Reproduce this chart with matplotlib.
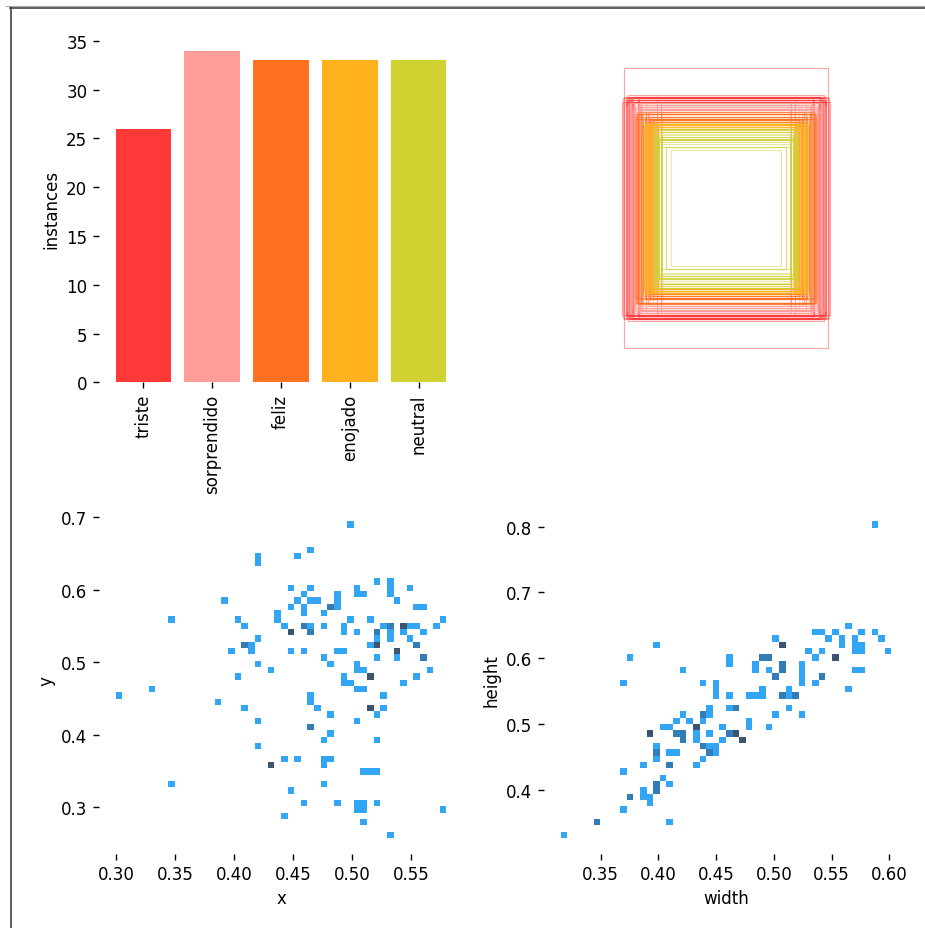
import numpy as np
import pandas as pd
import matplotlib
matplotlib.use('Agg')
import matplotlib.pyplot as plt
from matplotlib.patches import Rectangle
from matplotlib.lines import Line2D
import seaborn as sn

names = ['triste', 'sorprendido', 'feliz', 'enojado', 'neutral']
instances = [26, 34, 33, 33, 33]
class_colors = ['#FF3838', '#FF9D97', '#FF701F', '#FFB21D', '#CFD231']

# box centres, one tuple per histogram cell: (x, y, count)
xy_cells = [
    (0.499, 0.690, 1), (0.465, 0.655, 1), (0.454, 0.646, 1), (0.420, 0.646, 1), (0.420, 0.638, 1),
    (0.521, 0.611, 1), (0.533, 0.611, 1), (0.533, 0.603, 1), (0.533, 0.594, 1), (0.538, 0.585, 1),
    (0.549, 0.603, 1), (0.504, 0.603, 1), (0.504, 0.594, 1), (0.510, 0.594, 1), (0.488, 0.594, 1),
    (0.488, 0.585, 1), (0.488, 0.576, 1), (0.482, 0.576, 2), (0.476, 0.568, 1), (0.465, 0.603, 1),
    (0.448, 0.603, 1), (0.460, 0.594, 1), (0.454, 0.585, 1), (0.465, 0.585, 1), (0.471, 0.585, 1),
    (0.448, 0.576, 1), (0.460, 0.576, 1), (0.460, 0.568, 1), (0.437, 0.568, 1), (0.437, 0.559, 1),
    (0.443, 0.550, 1), (0.448, 0.542, 3), (0.460, 0.550, 2), (0.465, 0.550, 1), (0.465, 0.542, 2),
    (0.476, 0.550, 1), (0.493, 0.550, 1), (0.493, 0.542, 1), (0.499, 0.559, 1), (0.504, 0.542, 1),
    (0.516, 0.559, 1), (0.521, 0.542, 2), (0.521, 0.533, 1), (0.516, 0.524, 1), (0.521, 0.524, 3),
    (0.527, 0.550, 1), (0.533, 0.550, 2), (0.533, 0.542, 1), (0.533, 0.533, 1), (0.538, 0.515, 3),
    (0.538, 0.507, 1), (0.544, 0.550, 3), (0.549, 0.550, 1), (0.555, 0.550, 1), (0.544, 0.542, 1),
    (0.549, 0.533, 1), (0.555, 0.524, 2), (0.561, 0.542, 1), (0.561, 0.507, 2), (0.572, 0.550, 1),
    (0.577, 0.559, 1), (0.555, 0.576, 1), (0.561, 0.576, 1), (0.448, 0.515, 1), (0.460, 0.515, 1),
    (0.488, 0.515, 1), (0.493, 0.515, 1), (0.476, 0.507, 1), (0.482, 0.498, 1), (0.504, 0.498, 1),
    (0.504, 0.489, 1), (0.510, 0.489, 1), (0.516, 0.480, 3), (0.493, 0.480, 1), (0.493, 0.472, 1),
    (0.499, 0.472, 1), (0.504, 0.463, 1), (0.510, 0.463, 1), (0.521, 0.507, 1), (0.544, 0.472, 1),
    (0.555, 0.480, 1), (0.566, 0.489, 1), (0.527, 0.454, 1), (0.465, 0.454, 1), (0.465, 0.445, 1),
    (0.471, 0.437, 1), (0.482, 0.428, 1), (0.516, 0.437, 3), (0.521, 0.428, 1), (0.527, 0.437, 1),
    (0.504, 0.419, 1), (0.420, 0.419, 1), (0.465, 0.410, 2), (0.482, 0.402, 1), (0.476, 0.393, 1),
    (0.521, 0.393, 1), (0.420, 0.384, 1), (0.443, 0.367, 1), (0.454, 0.367, 1), (0.476, 0.367, 1),
    (0.482, 0.367, 1), (0.476, 0.358, 1), (0.431, 0.358, 3), (0.510, 0.349, 1), (0.516, 0.349, 1),
    (0.521, 0.349, 1), (0.347, 0.332, 1), (0.476, 0.332, 1), (0.448, 0.323, 1), (0.460, 0.306, 1),
    (0.488, 0.306, 1), (0.504, 0.306, 1), (0.510, 0.306, 1), (0.504, 0.297, 1), (0.510, 0.297, 1),
    (0.521, 0.306, 1), (0.577, 0.297, 1), (0.443, 0.288, 1), (0.510, 0.279, 1), (0.533, 0.262, 1),
    (0.330, 0.463, 1), (0.302, 0.454, 1), (0.387, 0.445, 1), (0.409, 0.437, 1), (0.403, 0.480, 1),
    (0.420, 0.533, 1), (0.409, 0.524, 2), (0.415, 0.524, 1), (0.415, 0.515, 1), (0.398, 0.515, 1),
    (0.403, 0.559, 1), (0.409, 0.550, 1), (0.420, 0.498, 1), (0.431, 0.489, 1), (0.392, 0.585, 1),
    (0.347, 0.559, 1),
]

# box sizes, one tuple per histogram cell: (width, height, count)
wh_cells = [
    (0.587, 0.803, 1), (0.564, 0.649, 1), (0.536, 0.639, 1), (0.541, 0.639, 1), (0.553, 0.639, 1),
    (0.576, 0.639, 1), (0.587, 0.639, 1), (0.547, 0.630, 1), (0.559, 0.630, 1), (0.570, 0.630, 1),
    (0.593, 0.630, 1), (0.501, 0.630, 1), (0.507, 0.620, 3), (0.559, 0.620, 1), (0.570, 0.620, 1),
    (0.576, 0.620, 1), (0.398, 0.620, 1), (0.530, 0.611, 1), (0.541, 0.611, 1), (0.570, 0.611, 1),
    (0.576, 0.611, 1), (0.599, 0.611, 1), (0.375, 0.601, 1), (0.536, 0.601, 1), (0.553, 0.601, 3),
    (0.461, 0.601, 1), (0.461, 0.591, 1), (0.490, 0.601, 2), (0.496, 0.601, 2), (0.484, 0.591, 1),
    (0.484, 0.582, 1), (0.496, 0.582, 1), (0.501, 0.572, 2), (0.507, 0.591, 2), (0.507, 0.582, 2),
    (0.524, 0.591, 1), (0.524, 0.582, 1), (0.524, 0.572, 1), (0.524, 0.562, 1), (0.541, 0.572, 2),
    (0.536, 0.562, 1), (0.421, 0.582, 1), (0.570, 0.582, 1), (0.576, 0.582, 1), (0.564, 0.553, 1),
    (0.370, 0.562, 1), (0.438, 0.562, 1), (0.450, 0.562, 1), (0.450, 0.553, 1), (0.450, 0.543, 1),
    (0.461, 0.543, 1), (0.478, 0.543, 1), (0.484, 0.543, 1), (0.490, 0.553, 1), (0.490, 0.543, 1),
    (0.507, 0.543, 2), (0.513, 0.543, 1), (0.518, 0.543, 2), (0.513, 0.553, 1), (0.444, 0.524, 1),
    (0.444, 0.514, 1), (0.438, 0.514, 2), (0.461, 0.524, 1), (0.467, 0.524, 2), (0.513, 0.524, 1),
    (0.501, 0.514, 1), (0.524, 0.514, 1), (0.421, 0.514, 1), (0.415, 0.505, 1), (0.427, 0.505, 1),
    (0.404, 0.495, 1), (0.410, 0.495, 1), (0.433, 0.495, 3), (0.438, 0.505, 1), (0.455, 0.495, 1),
    (0.478, 0.505, 1), (0.478, 0.495, 1), (0.496, 0.495, 1), (0.392, 0.486, 3), (0.415, 0.486, 2),
    (0.421, 0.486, 2), (0.421, 0.476, 2), (0.433, 0.486, 1), (0.433, 0.476, 1), (0.444, 0.486, 1),
    (0.461, 0.486, 2), (0.467, 0.486, 3), (0.473, 0.476, 3), (0.455, 0.476, 1), (0.438, 0.466, 2),
    (0.444, 0.466, 1), (0.450, 0.466, 1), (0.444, 0.457, 2), (0.450, 0.457, 1), (0.438, 0.447, 1),
    (0.433, 0.437, 1), (0.398, 0.466, 1), (0.398, 0.457, 2), (0.398, 0.447, 1), (0.410, 0.457, 1),
    (0.415, 0.457, 1), (0.387, 0.437, 1), (0.410, 0.437, 2), (0.370, 0.428, 1), (0.404, 0.418, 1),
    (0.398, 0.409, 2), (0.398, 0.399, 2), (0.410, 0.409, 1), (0.387, 0.399, 1), (0.387, 0.389, 1),
    (0.392, 0.389, 1), (0.392, 0.380, 1), (0.375, 0.389, 2), (0.370, 0.370, 1), (0.347, 0.351, 2),
    (0.410, 0.351, 1), (0.318, 0.332, 1),
]


def expand(cells, cols):
    a = np.array(cells)
    return pd.DataFrame(np.repeat(a[:, :2], a[:, 2].astype(int), axis=0), columns=cols)


def half_bin_range(v, bins=50):
    bw = (v.max() - v.min()) / (bins - 1)
    return v.min() - bw / 2, v.max() + bw / 2


xy = expand(xy_cells, ['x', 'y'])
wh = expand(wh_cells, ['width', 'height'])

plt.rcParams['font.size'] = 12
for k in ['xtick', 'ytick']:
    plt.rcParams[k + '.major.size'] = 4.2
    plt.rcParams[k + '.major.width'] = 1.0
    plt.rcParams[k + '.major.pad'] = 4.2

W, H = 925, 929
fig = plt.figure(figsize=(W / 100, H / 100), dpi=100)


def px_axes(left, top, right, bottom):
    return fig.add_axes([left / W, 1 - bottom / H, (right - left) / W, (bottom - top) / H])


ax = [px_axes(99, 35, 463, 383.3), px_axes(544, 35, 908, 383.3),
      px_axes(99, 506.6, 463, 854.8), px_axes(544, 506.6, 908, 854.8)]

# class counts
ax[0].bar(range(len(names)), instances, width=0.8, color=class_colors)
ax[0].set_ylabel('instances')
ax[0].set_xticks(range(len(names)))
ax[0].set_xticklabels(names, rotation=90)

# box outlines, all centred
cls = np.repeat(np.arange(len(names)), instances)
for c, (w, h) in zip(cls, wh[['width', 'height']].values):
    ax[1].add_patch(Rectangle((1000 - w * 1000, 1000 - h * 1000), w * 2000, h * 2000,
                              fill=False, lw=0.8, alpha=0.45, edgecolor=class_colors[c]))
ax[1].set_xlim(0, 2000)
ax[1].set_ylim(2000, 0)
ax[1].set_aspect('equal')
ax[1].axis('off')

sn.histplot(xy, x='x', y='y', ax=ax[2], bins=50, pmax=0.9,
            binrange=(half_bin_range(xy['x']), half_bin_range(xy['y'])))
sn.histplot(wh, x='width', y='height', ax=ax[3], bins=50, pmax=0.9,
            binrange=(half_bin_range(wh['width']), half_bin_range(wh['height'])))

for a in ax:
    for s in ['top', 'right', 'left', 'bottom']:
        a.spines[s].set_visible(False)

# frame of the screenshot
fig.add_artist(Line2D([6 / W, 1], [1 - 7 / H] * 2, color='#aaaaaa', lw=0.8))
fig.add_artist(Line2D([10 / W, 1], [1 - 8.5 / H] * 2, color='#333333', lw=1.1))
fig.add_artist(Line2D([10.5 / W] * 2, [0, 1 - 8.5 / H], color='#333333', lw=1.1))

fig.savefig('out.png', dpi=100)
